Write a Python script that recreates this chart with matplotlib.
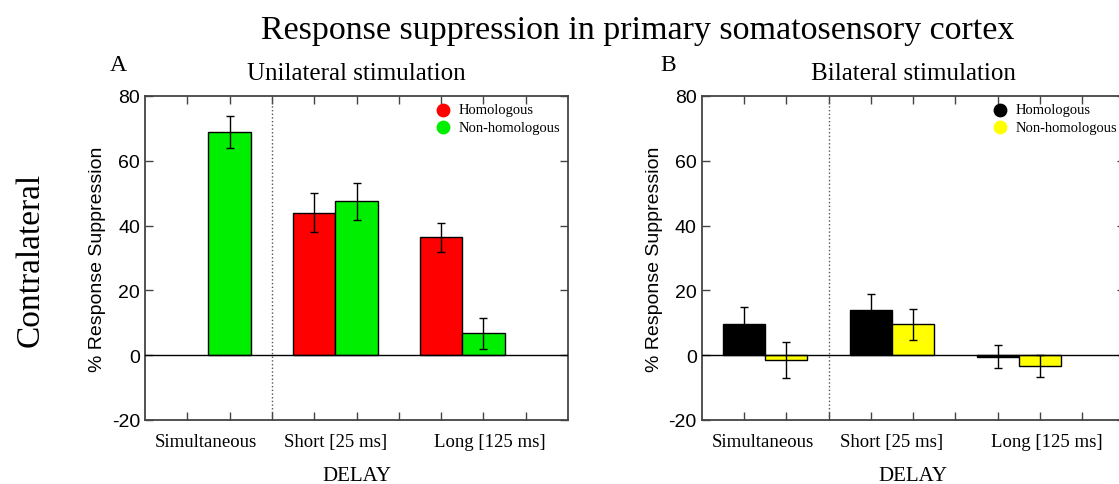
import numpy as np
import matplotlib.pyplot as plt

plt.rcParams['axes.unicode_minus'] = False

# data
delays = ['Simultaneous', 'Short [25 ms]', 'Long [125 ms]']
hom_x = [1, 4, 7]
nonhom_x = [2, 5, 8]

uni_hom = [np.nan, 44.0, 36.4]
uni_hom_err = [0, 6.0, 4.5]
uni_non = [68.9, 47.5, 6.7]
uni_non_err = [5.0, 5.8, 4.8]

bi_hom = [9.5, 14.0, -0.5]
bi_hom_err = [5.4, 4.8, 3.6]
bi_non = [-1.4, 9.6, -3.3]
bi_non_err = [5.5, 4.8, 3.5]

serif = ['Liberation Serif', 'DejaVu Serif']
sans = ['Liberation Sans', 'DejaVu Sans']

fig = plt.figure(figsize=(11.19, 4.85), dpi=100)
axA = fig.add_axes([0.1296, 0.132, 0.378, 0.668])
axB = fig.add_axes([0.627, 0.132, 0.378, 0.668])


def panel(ax, hom, hom_err, non, non_err, c_hom, c_non, title, letter, lx):
    ax.bar(hom_x, hom, width=1.0, color=c_hom, edgecolor='black', linewidth=1.0,
           yerr=hom_err, error_kw=dict(ecolor='black', elinewidth=1.0, capsize=3, capthick=1.0))
    ax.bar(nonhom_x, non, width=1.0, color=c_non, edgecolor='black', linewidth=1.0,
           yerr=non_err, error_kw=dict(ecolor='black', elinewidth=1.0, capsize=3, capthick=1.0))
    ax.axhline(0, color='black', linewidth=1.0, zorder=3)
    ax.axvline(3, color='#555555', linestyle=':', linewidth=1.0)
    ax.set_xlim(0, 10)
    ax.set_ylim(-20, 80)
    ax.set_yticks([-20, 0, 20, 40, 60, 80])
    ax.set_xticks(range(1, 10))
    ax.set_xticklabels([])
    ax.tick_params(direction='in', length=6, width=1.0, color='#444444',
                   top=True, right=True, labelsize=14)
    for lab in ax.get_yticklabels():
        lab.set_family(sans)
    for s in ax.spines.values():
        s.set_color('#444444')
        s.set_linewidth(1.3)
    for x, t in zip([1.45, 4.5, 8.15], delays):
        ax.text(x, -24, t, ha='center', va='top', family=serif, fontsize=13.5)
    ax.text(5, -37.2, 'DELAY', ha='center', va='center', family=serif, fontsize=15)
    ax.set_ylabel('% Response Suppression', family=sans, fontsize=14, labelpad=4)
    ax.set_title(title, family=serif, fontsize=18, pad=12)
    ax.text(lx, 1.065, letter, transform=ax.transAxes, family=serif, fontsize=17,
            ha='center', va='bottom')
    h1 = ax.scatter([], [], s=80, color=c_hom, label='Homologous')
    h2 = ax.scatter([], [], s=80, color=c_non, label='Non-homologous')
    ax.legend(handles=[h1, h2], loc='upper right', frameon=False,
              prop={'family': serif, 'size': 10.5}, handletextpad=0.1,
              labelspacing=0.3, borderaxespad=0.3, borderpad=0.2)


panel(axA, uni_hom, uni_hom_err, uni_non, uni_non_err, '#ff0000', '#00ee00',
      'Unilateral stimulation', 'A', -0.064)
panel(axB, bi_hom, bi_hom_err, bi_non, bi_non_err, '#000000', '#ffff00',
      'Bilateral stimulation', 'B', -0.08)

fig.text(0.57, 0.936, 'Response suppression in primary somatosensory cortex',
         ha='center', va='center', family=serif, fontsize=24.5)
fig.text(0.027, 0.464, 'Contralateral', rotation=90, ha='center', va='center',
         family=serif, fontsize=24)

fig.savefig('out.png', dpi=100)
